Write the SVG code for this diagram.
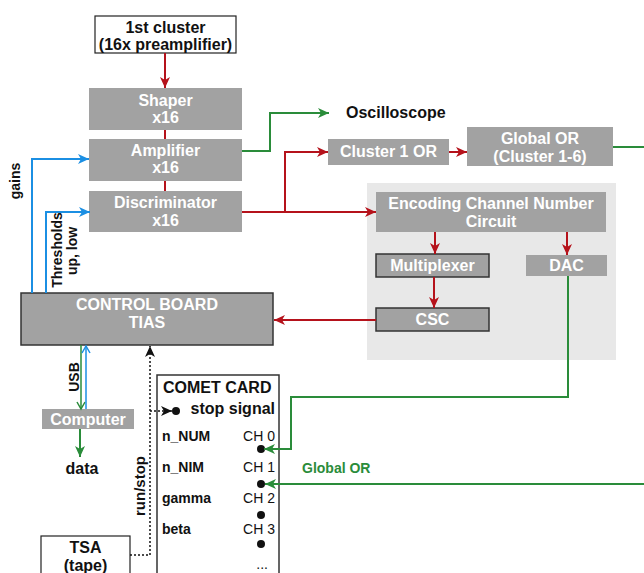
<svg xmlns="http://www.w3.org/2000/svg" width="644" height="573" viewBox="0 0 644 573">
<style>
text{font-family:"Liberation Sans",Arial,sans-serif;font-weight:bold;font-size:16px}
.w{fill:#ffffff;text-anchor:middle}
.k{fill:#111111}
.c{text-anchor:middle}
.s{font-size:14px}
.n{font-weight:normal;font-size:14px;text-anchor:end;fill:#111}
.g{fill:#a2a2a2}
.bd{stroke:#333;stroke-width:1.5}
.red{stroke:#b5121b;stroke-width:2;fill:none}
.grn{stroke:#2a8c3a;stroke-width:2;fill:none}
.blu{stroke:#1b8fe3;stroke-width:2;fill:none}
.dot{stroke:#111;stroke-width:1.5;stroke-dasharray:2 2;fill:none}
</style>
<defs>
<marker id="mr" markerWidth="12" markerHeight="10" refX="11" refY="5" orient="auto" markerUnits="userSpaceOnUse"><path d="M0,0 L11,5 L0,10 L3,5 Z" fill="#b5121b"/></marker>
<marker id="mg" markerWidth="12" markerHeight="10" refX="11" refY="5" orient="auto" markerUnits="userSpaceOnUse"><path d="M0,0 L11,5 L0,10 L3,5 Z" fill="#2a8c3a"/></marker>
<marker id="mb" markerWidth="12" markerHeight="10" refX="11" refY="5" orient="auto" markerUnits="userSpaceOnUse"><path d="M0,0 L11,5 L0,10 L3,5 Z" fill="#1b8fe3"/></marker>
<marker id="mk" markerWidth="12" markerHeight="10" refX="11" refY="5" orient="auto" markerUnits="userSpaceOnUse"><path d="M0,0 L11,5 L0,10 L3,5 Z" fill="#111"/></marker>
<marker id="og" markerWidth="10" markerHeight="10" refX="8" refY="5" orient="auto" markerUnits="userSpaceOnUse"><path d="M1,1 L8,5 L1,9" fill="none" stroke="#2a8c3a" stroke-width="1.5"/></marker>
<marker id="ob" markerWidth="10" markerHeight="10" refX="8" refY="5" orient="auto" markerUnits="userSpaceOnUse"><path d="M1,1 L8,5 L1,9" fill="none" stroke="#1b8fe3" stroke-width="1.5"/></marker>
</defs>
<rect width="644" height="573" fill="#ffffff"/>
<rect id="panel" x="367" y="183" width="249" height="177" fill="#e8e8e8"/>

<g id="cluster1st">
<rect x="95" y="16" width="141" height="37" fill="#fff" stroke="#222" stroke-width="1.2"/>
<text class="k c" x="165.5" y="33">1st cluster</text>
<text class="k c" x="165.5" y="50">(16x preamplifier)</text>
</g>
<g id="shaper"><rect class="g" x="89" y="88" width="153" height="42"/><text class="w" x="165.5" y="106">Shaper</text><text class="w" x="165.5" y="123">x16</text></g>
<g id="amplifier"><rect class="g" x="89" y="139" width="153" height="42"/><text class="w" x="165.5" y="156">Amplifier</text><text class="w" x="165.5" y="173">x16</text></g>
<g id="discriminator"><rect class="g" x="89" y="191" width="153" height="41"/><text class="w" x="165.5" y="208">Discriminator</text><text class="w" x="165.5" y="226">x16</text></g>
<g id="oscilloscope"><text class="k" x="346" y="118">Oscilloscope</text></g>
<g id="cluster1or"><rect class="g" x="328" y="139" width="121" height="26"/><text class="w" x="388.5" y="157">Cluster 1 OR</text></g>
<g id="globalor"><rect class="g" x="467" y="127" width="146" height="39"/><text class="w" x="540" y="144">Global OR</text><text class="w" x="540" y="162">(Cluster 1-6)</text></g>
<g id="encoding"><rect class="g" x="376" y="192" width="230" height="40"/><text class="w" x="491" y="209">Encoding Channel Number</text><text class="w" x="491" y="227">Circuit</text></g>
<g id="multiplexer"><rect class="g bd" x="376" y="254" width="113" height="23"/><text class="w" x="432.5" y="271">Multiplexer</text></g>
<g id="dac"><rect class="g" x="526" y="255" width="81" height="21"/><text class="w" x="566.5" y="271">DAC</text></g>
<g id="csc"><rect class="g bd" x="376" y="308" width="113" height="23"/><text class="w" x="432.5" y="325">CSC</text></g>
<g id="controlboard"><rect class="g bd" x="21" y="293" width="252" height="52"/><text class="w" x="147" y="310">CONTROL BOARD</text><text class="w" x="147" y="328">TIAS</text></g>
<g id="computer"><rect class="g" x="42" y="409" width="92" height="20"/><text class="w" x="88" y="425">Computer</text></g>
<g id="data"><text class="k c" x="82" y="474">data</text></g>
<g id="tsa"><rect x="41" y="536" width="89" height="45" fill="#fff" stroke="#222" stroke-width="1.2"/><text class="k c" x="85.5" y="553">TSA</text><text class="k c" x="85.5" y="571">(tape)</text></g>
<g id="cometcard">
<rect x="157" y="375" width="122" height="210" fill="#fff" stroke="#333" stroke-width="1.5"/>
<text class="k" x="163" y="393">COMET CARD</text>
<text class="k" x="275" y="414" text-anchor="end">stop signal</text>
<text class="k s" x="162" y="441">n_NUM</text><text class="n" x="275" y="441">CH 0</text>
<text class="k s" x="162" y="472">n_NIM</text><text class="n" x="275" y="472">CH 1</text>
<text class="k s" x="162" y="503">gamma</text><text class="n" x="275" y="503">CH 2</text>
<text class="k s" x="162" y="534">beta</text><text class="n" x="275" y="534">CH 3</text>
<text class="n" x="268" y="569">...</text>
<circle cx="176" cy="411" r="4" fill="#111"/>
<circle cx="261" cy="449" r="4" fill="#111"/>
<circle cx="261" cy="484" r="4" fill="#111"/>
<circle cx="261" cy="515" r="4" fill="#111"/>
<circle cx="261" cy="544" r="4" fill="#111"/>
</g>
<g id="labels">
<text class="k s c" transform="translate(20,181) rotate(-90)">gains</text>
<text class="k s c" transform="translate(62,250) rotate(-90)">Thresholds</text>
<text class="k s c" transform="translate(77,251) rotate(-90)">up, low</text>
<text class="k s c" transform="translate(79,377) rotate(-90)">USB</text>
<text class="k c" style="font-size:15px" transform="translate(145,486) rotate(-90)">run/stop</text>
<text class="s" x="302" y="473" fill="#2a8c3a">Global OR</text>
</g>
<g id="connectors">
<path class="red" d="M165,53 V88" marker-end="url(#mr)"/>
<path class="red" d="M165,130 V139"/>
<path class="red" d="M165,181 V191"/>
<path class="grn" d="M242,151 H270 V113 H329" marker-end="url(#mg)"/>
<path class="red" d="M242,212 H376" marker-end="url(#mr)"/>
<path class="red" d="M285,212 V152 H328" marker-end="url(#mr)"/>
<path class="red" d="M449,152 H467" marker-end="url(#mr)"/>
<path class="grn" d="M613,147 H644"/>
<path class="red" d="M435,232 V254" marker-end="url(#mr)"/>
<path class="red" d="M567,232 V255" marker-end="url(#mr)"/>
<path class="red" d="M434,277 V308" marker-end="url(#mr)"/>
<path class="red" d="M376,320 H274" marker-end="url(#mr)"/>
<path class="grn" d="M568,276 V397 H291 V449 H264" marker-end="url(#mg)"/>
<path class="grn" d="M644,484 H265" marker-end="url(#mg)"/>
<path class="blu" d="M32,293 V159 H89" marker-end="url(#mb)"/>
<path class="blu" d="M46,293 V212 H90" marker-end="url(#mb)"/>
<path class="grn" style="stroke-width:1.5" d="M81,345 V409" marker-end="url(#og)"/>
<path class="blu" style="stroke-width:1.5" d="M86,409 V346" marker-end="url(#ob)"/>
<path class="grn" d="M80,429 V457" marker-end="url(#mg)"/>
<path class="dot" d="M130,555 H150 V346" marker-end="url(#mk)"/>
<path class="dot" d="M150,411 H172" marker-end="url(#mk)"/>
</g>
</svg>
